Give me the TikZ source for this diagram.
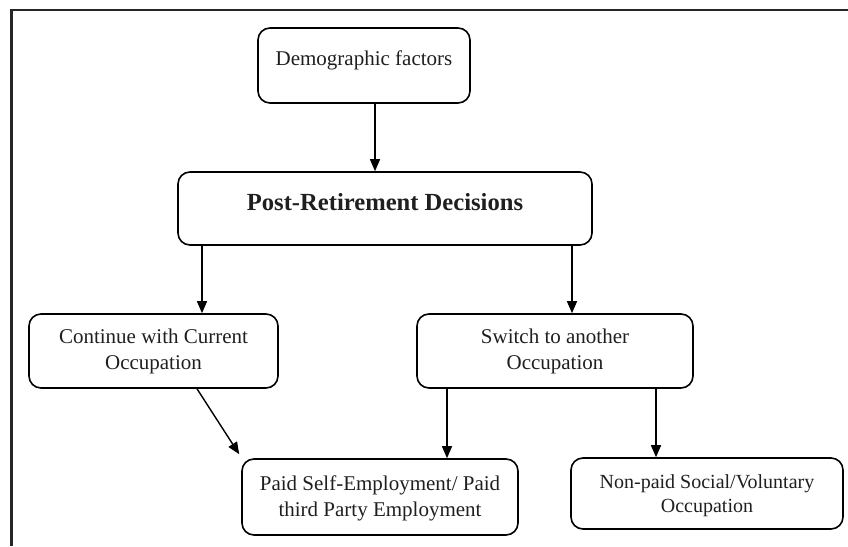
\documentclass[tikz,border=0pt]{standalone}
\usepackage{fontspec}
\setmainfont{Liberation Serif}
\usetikzlibrary{arrows.meta,calc}
\tikzset{
  box/.style={draw, line width=1.6pt, rounded corners=12pt, inner sep=0pt},
  lbl/.style={align=center, font=\fontsize{21}{26}\selectfont, text=black!88},
  arr/.style={line width=1.4pt, -{Triangle[length=12pt,width=10pt]}},
}
\begin{document}
\begin{tikzpicture}[x=1pt,y=-1pt]
\useasboundingbox (0,0) rectangle (848,546);
\draw[line width=2.2pt, black!85] (11.5,546) -- (11.5,10) -- (848,10);

\node[box, minimum width=212pt, minimum height=75pt] (demo) at (364,65.5) {};
\node[lbl] (demot) at ([yshift=5.5pt]demo.center) {Demographic factors};

\node[box, minimum width=414pt, minimum height=73pt] (post) at (385,208.5) {};
\node[lbl, font=\fontsize{24.6}{30}\selectfont\bfseries] (postt) at ([yshift=6.5pt]post.center) {Post-Retirement Decisions};

\node[box, minimum width=249pt, minimum height=74pt] (cont) at (153.5,351) {};
\node[lbl] (contt) at (cont.center) {Continue with Current\\Occupation};

\node[box, minimum width=276pt, minimum height=74pt] (switch) at (555,351) {};
\node[lbl] (switcht) at (switch.center) {Switch to another\\Occupation};

\node[box, minimum width=276pt, minimum height=76pt] (paid) at (380,497) {};
\node[lbl] (paidt) at ([yshift=-1pt]paid.center) {Paid Self-Employment/ Paid\\third Party Employment};

\node[box, minimum width=272pt, minimum height=71pt] (nonpaid) at (707,493.5) {};
\node[lbl, font=\fontsize{20}{24}\selectfont] (nonpaidt) at ([yshift=-2pt]nonpaid.center) {Non-paid Social/Voluntary\\Occupation};

\draw[arr] ([xshift=11pt]demo.south) -- ([xshift=11pt]demo.south |- post.north);
\draw[arr] ([xshift=-183pt]post.south) -- ([xshift=-183pt]post.south |- cont.north);
\draw[arr] ([xshift=187pt]post.south) -- ([xshift=187pt]post.south |- switch.north);
\draw[arr] ([xshift=43.5pt]cont.south) -- ([xshift=-2pt,yshift=4pt]paid.north west);
\draw[arr] ([xshift=-108pt]switch.south) -- ([xshift=-108pt]switch.south |- paid.north);
\draw[arr] ([xshift=101pt]switch.south) -- ([xshift=101pt]switch.south |- nonpaid.north);
\end{tikzpicture}
\end{document}
